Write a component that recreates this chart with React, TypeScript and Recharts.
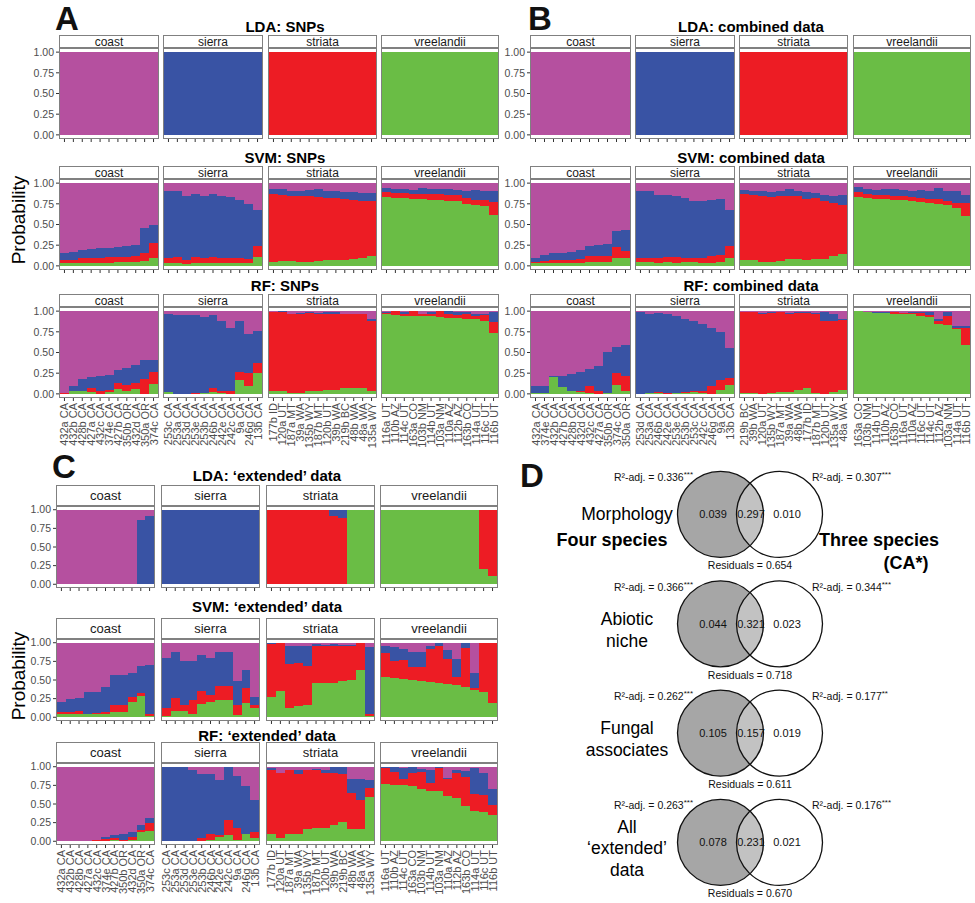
import React from 'react';
import { BarChart, Bar, XAxis, YAxis, ScatterChart, Scatter } from 'recharts';

const FONT = '"Liberation Sans", Arial, Helvetica, sans-serif';
const COL_G = '#6abd45';
const COL_R = '#ed1c24';
const COL_B = '#3953a4';
const COL_P = '#b5509f';

const SPECIES = ['coast', 'sierra', 'striata', 'vreelandii'];

// ---------- tick labels ----------
const labelsA = [
  ['432a CA', '432b CA', '428b CA', '427a CA', '432c CA', '374e CA', '427b CA', '350b OR', '432d CA', '350a OR', '374c CA'],
  ['253c CA', '253a CA', '253d CA', '253e CA', '253b CA', '246b CA', '242e CA', '242c CA', '9a CA', '246g CA', '13b CA'],
  ['177b ID', '120a UT', '187a MT', '39a WA', '135b WY', '187b MT', '120b UT', '39b WA', '219b BC', '48b WA', '48a WA', '135a WY'],
  ['116a UT', '110b AZ', '114c UT', '163a CO', '103b NM', '114b UT', '103a NM', '110a AZ', '112b AZ', '163b CO', '114a UT', '116c UT', '116b UT'],
];
const labelsB = [
  ['432a CA', '374e CA', '432b CA', '427b CA', '428b CA', '432d CA', '432c CA', '427a CA', '350b OR', '374c CA', '350a OR'],
  ['253d CA', '253a CA', '246b CA', '242e CA', '253e CA', '253b CA', '253c CA', '242c CA', '246g CA', '9a CA', '13b CA'],
  ['219b BC', '39b WA', '120a UT', '135b WY', '187a MT', '39a WA', '48b WA', '177b ID', '187b MT', '120b UT', '135a WY', '48a WA'],
  ['163a CO', '103b NM', '114b UT', '110b AZ', '163b CO', '116a UT', '110a AZ', '116c UT', '114c UT', '112b AZ', '103a NM', '114a UT', '116b UT'],
];
const labelsC = labelsA;

// ---------- A: SNPs ----------
const ldaSnpsG = [
  [0, 0, 0, 0, 0, 0, 0, 0, 0, 0, 0],
  [0, 0, 0, 0, 0, 0, 0, 0, 0, 0, 0],
  [0, 0, 0, 0, 0, 0, 0, 0, 0, 0, 0, 0],
  [1, 1, 1, 1, 1, 1, 1, 1, 1, 1, 1, 1, 1],
];
const ldaSnpsR = [
  [0, 0, 0, 0, 0, 0, 0, 0, 0, 0, 0],
  [0, 0, 0, 0, 0, 0, 0, 0, 0, 0, 0],
  [1, 1, 1, 1, 1, 1, 1, 1, 1, 1, 1, 1],
  [0, 0, 0, 0, 0, 0, 0, 0, 0, 0, 0, 0, 0],
];
const ldaSnpsB = [
  [0, 0, 0, 0, 0, 0, 0, 0, 0, 0, 0],
  [1, 1, 1, 1, 1, 1, 1, 1, 1, 1, 1],
  [0, 0, 0, 0, 0, 0, 0, 0, 0, 0, 0, 0],
  [0, 0, 0, 0, 0, 0, 0, 0, 0, 0, 0, 0, 0],
];

const svmSnpsG = [
  [0.04, 0.04, 0.03, 0.04, 0.04, 0.04, 0.05, 0.05, 0.05, 0.06, 0.10],
  [0.04, 0.04, 0.02, 0.04, 0.04, 0.04, 0.04, 0.04, 0.04, 0.03, 0.11],
  [0.05, 0.06, 0.06, 0.05, 0.05, 0.06, 0.07, 0.07, 0.07, 0.08, 0.09, 0.12],
  [0.83, 0.82, 0.82, 0.81, 0.81, 0.80, 0.80, 0.79, 0.78, 0.75, 0.74, 0.72, 0.62],
];
const svmSnpsR = [
  [0.03, 0.03, 0.06, 0.06, 0.06, 0.07, 0.06, 0.06, 0.07, 0.10, 0.18],
  [0.05, 0.07, 0.05, 0.07, 0.06, 0.07, 0.06, 0.05, 0.05, 0.05, 0.13],
  [0.82, 0.80, 0.79, 0.80, 0.79, 0.77, 0.75, 0.75, 0.74, 0.72, 0.69, 0.67],
  [0.06, 0.06, 0.06, 0.06, 0.06, 0.07, 0.07, 0.07, 0.08, 0.07, 0.06, 0.08, 0.15],
];
const svmSnpsB = [
  [0.08, 0.10, 0.10, 0.10, 0.11, 0.11, 0.12, 0.13, 0.13, 0.30, 0.22],
  [0.81, 0.79, 0.78, 0.76, 0.75, 0.76, 0.75, 0.74, 0.71, 0.67, 0.44],
  [0.06, 0.07, 0.06, 0.06, 0.08, 0.10, 0.08, 0.08, 0.08, 0.09, 0.10, 0.09],
  [0.05, 0.05, 0.05, 0.05, 0.07, 0.06, 0.06, 0.07, 0.06, 0.08, 0.12, 0.10, 0.13],
];

const rfSnpsG = [
  [0, 0.03, 0.03, 0.02, 0, 0.02, 0.06, 0.04, 0.06, 0, 0.12],
  [0.02, 0, 0, 0, 0.01, 0.02, 0.01, 0, 0.17, 0.10, 0.25],
  [0.03, 0.03, 0.01, 0.01, 0.03, 0.03, 0.05, 0.05, 0.07, 0.07, 0.07, 0.03],
  [0.96, 0.95, 0.94, 0.94, 0.94, 0.94, 0.93, 0.92, 0.92, 0.91, 0.90, 0.88, 0.74],
];
const rfSnpsR = [
  [0.015, 0, 0, 0.05, 0.03, 0.03, 0.07, 0.07, 0.07, 0.18, 0.15],
  [0, 0, 0, 0.01, 0, 0.05, 0.02, 0.03, 0.10, 0.15, 0.12],
  [0.96, 0.96, 0.95, 0.95, 0.95, 0.93, 0.91, 0.91, 0.90, 0.89, 0.89, 0.85],
  [0.02, 0.05, 0.03, 0.06, 0.03, 0.02, 0.07, 0.05, 0.03, 0.05, 0.04, 0.07, 0.13],
];
const rfSnpsB = [
  [0, 0.07, 0.15, 0.13, 0.18, 0.18, 0.16, 0.20, 0.22, 0.23, 0.14],
  [0.94, 0.95, 0.95, 0.94, 0.92, 0.88, 0.85, 0.77, 0.61, 0.47, 0.39],
  [0, 0.01, 0, 0.02, 0.01, 0.02, 0.03, 0.03, 0, 0.01, 0, 0.02],
  [0.01, 0, 0.02, 0, 0, 0.03, 0, 0.03, 0.04, 0.03, 0.02, 0.02, 0.12],
];

// ---------- B: combined data ----------
const ldaCombG = [
  [0, 0, 0, 0, 0, 0, 0, 0, 0, 0, 0],
  [0, 0, 0, 0, 0, 0, 0, 0, 0, 0, 0],
  [0, 0, 0, 0, 0, 0, 0, 0, 0, 0, 0, 0],
  [1, 1, 1, 1, 1, 1, 1, 1, 1, 1, 1, 1, 1],
];
const ldaCombR = [
  [0, 0, 0, 0, 0, 0, 0, 0, 0, 0, 0],
  [0, 0, 0, 0, 0, 0, 0, 0, 0, 0, 0],
  [1, 1, 1, 1, 1, 1, 1, 1, 1, 1, 1, 1],
  [0, 0, 0, 0, 0, 0, 0, 0, 0, 0, 0, 0, 0],
];
const ldaCombB = [
  [0, 0, 0, 0, 0, 0, 0, 0, 0, 0, 0],
  [1, 1, 1, 1, 1, 1, 1, 1, 1, 1, 1],
  [0, 0, 0, 0, 0, 0, 0, 0, 0, 0, 0, 0],
  [0, 0, 0, 0, 0, 0, 0, 0, 0, 0, 0, 0, 0],
];

const svmCombG = [
  [0.03, 0.03, 0.03, 0.03, 0.03, 0.04, 0.05, 0.05, 0.05, 0.09, 0.09],
  [0.05, 0.05, 0.04, 0.05, 0.04, 0.05, 0.05, 0.04, 0.04, 0.05, 0.10],
  [0.07, 0.07, 0.05, 0.05, 0.06, 0.08, 0.08, 0.07, 0.08, 0.08, 0.12, 0.14],
  [0.83, 0.82, 0.81, 0.81, 0.80, 0.80, 0.79, 0.77, 0.76, 0.75, 0.73, 0.70, 0.60],
];
const svmCombR = [
  [0.02, 0.03, 0.04, 0.04, 0.04, 0.04, 0.07, 0.07, 0.07, 0.14, 0.09],
  [0.05, 0.05, 0.05, 0.06, 0.07, 0.05, 0.04, 0.06, 0.08, 0.08, 0.14],
  [0.80, 0.79, 0.79, 0.78, 0.78, 0.77, 0.76, 0.74, 0.74, 0.71, 0.64, 0.60],
  [0.06, 0.05, 0.05, 0.05, 0.05, 0.04, 0.04, 0.05, 0.05, 0.06, 0.06, 0.06, 0.16],
];
const svmCombB = [
  [0.04, 0.07, 0.08, 0.09, 0.10, 0.11, 0.12, 0.13, 0.14, 0.19, 0.25],
  [0.80, 0.80, 0.77, 0.75, 0.74, 0.72, 0.70, 0.68, 0.68, 0.68, 0.43],
  [0.05, 0.05, 0.06, 0.06, 0.07, 0.08, 0.07, 0.08, 0.06, 0.07, 0.09, 0.12],
  [0.06, 0.06, 0.06, 0.07, 0.08, 0.08, 0.08, 0.10, 0.10, 0.13, 0.11, 0.14, 0.10],
];

const rfCombG = [
  [0.01, 0.01, 0.20, 0.08, 0.04, 0.02, 0.01, 0, 0.01, 0.11, 0.03],
  [0, 0.01, 0.01, 0, 0.01, 0.01, 0.02, 0.01, 0, 0.05, 0.11],
  [0.01, 0.01, 0, 0.01, 0.02, 0.02, 0.05, 0.07, 0.01, 0, 0.02, 0.05],
  [1.0, 0.99, 0.98, 0.98, 0.97, 0.97, 0.96, 0.94, 0.93, 0.85, 0.83, 0.79, 0.59],
];
const rfCombR = [
  [0, 0, 0, 0, 0, 0.01, 0.08, 0.03, 0, 0.14, 0.19],
  [0, 0, 0.01, 0.01, 0, 0.01, 0.01, 0.02, 0.10, 0.12, 0.08],
  [0.98, 0.98, 0.97, 0.97, 0.97, 0.94, 0.93, 0.91, 0.95, 0.88, 0.86, 0.84],
  [0, 0, 0, 0, 0.02, 0.01, 0.02, 0.04, 0.02, 0.03, 0.11, 0.01, 0.21],
];
const rfCombB = [
  [0.08, 0.08, 0.01, 0.14, 0.20, 0.23, 0.21, 0.31, 0.50, 0.32, 0.37],
  [0.99, 0.96, 0.96, 0.95, 0.93, 0.89, 0.85, 0.82, 0.70, 0.58, 0.36],
  [0, 0, 0.01, 0.01, 0, 0.02, 0.01, 0.01, 0.02, 0.11, 0.08, 0.02],
  [0, 0, 0.01, 0.01, 0, 0, 0.01, 0.01, 0.04, 0.02, 0.05, 0.02, 0.02],
];

// ---------- C: 'extended' data ----------
const ldaExtG = [
  [0, 0, 0, 0, 0, 0, 0, 0, 0, 0, 0],
  [0, 0, 0, 0, 0, 0, 0, 0, 0, 0, 0],
  [0, 0, 0, 0, 0, 0.01, 0.01, 0, 0, 1, 1, 1],
  [1, 1, 1, 1, 1, 1, 1, 1, 1, 1, 1, 0.21, 0.11],
];
const ldaExtR = [
  [0, 0, 0, 0, 0, 0, 0, 0, 0, 0, 0],
  [0, 0, 0, 0, 0, 0, 0, 0, 0, 0, 0],
  [1, 1, 1, 1, 1, 0.99, 0.99, 0.92, 0.89, 0, 0, 0],
  [0, 0, 0, 0, 0, 0, 0, 0, 0, 0, 0, 0.79, 0.89],
];
const ldaExtB = [
  [0, 0, 0, 0, 0, 0, 0, 0, 0, 0.86, 0.92],
  [1, 1, 1, 1, 1, 1, 1, 1, 1, 1, 1],
  [0, 0, 0, 0, 0, 0, 0, 0.08, 0.11, 0, 0, 0],
  [0, 0, 0, 0, 0, 0, 0, 0, 0, 0, 0, 0, 0],
];

const svmExtG = [
  [0.04, 0.04, 0.05, 0.04, 0.05, 0.05, 0.07, 0.07, 0.20, 0.28, 0.02],
  [0.02, 0.09, 0.08, 0.05, 0.18, 0.21, 0.23, 0.23, 0.03, 0.19, 0.13],
  [0.27, 0.35, 0.13, 0.15, 0.16, 0.46, 0.46, 0.46, 0.48, 0.50, 0.63, 0.02],
  [0.54, 0.53, 0.52, 0.50, 0.49, 0.47, 0.46, 0.44, 0.43, 0.41, 0.36, 0.34, 0.19],
];
const svmExtR = [
  [0.03, 0.03, 0.03, 0.01, 0.01, 0.02, 0.10, 0.10, 0.07, 0.04, 0.03],
  [0.10, 0.17, 0.09, 0.18, 0.17, 0.09, 0.19, 0.19, 0.13, 0.20, 0.04],
  [0.71, 0.64, 0.59, 0.58, 0.53, 0.50, 0.49, 0.50, 0.48, 0.45, 0.36, 0.02],
  [0.32, 0.23, 0.25, 0.18, 0.19, 0.44, 0.49, 0.34, 0.11, 0.52, 0.03, 0.66, 0.81],
];
const svmExtB = [
  [0.13, 0.18, 0.18, 0.29, 0.28, 0.34, 0.40, 0.40, 0.32, 0.37, 0.65],
  [0.67, 0.61, 0.59, 0.53, 0.49, 0.49, 0.45, 0.45, 0.33, 0.24, 0.10],
  [0.01, 0, 0.24, 0.23, 0.27, 0.02, 0.02, 0.02, 0.01, 0.02, 0, 0.90],
  [0.10, 0.18, 0.15, 0.20, 0.20, 0.05, 0.04, 0.12, 0.24, 0.06, 0.20, 0, 0],
];

const rfExtG = [
  [0, 0, 0, 0, 0, 0.01, 0.02, 0.01, 0.02, 0.12, 0.14],
  [0, 0, 0, 0, 0, 0.02, 0.06, 0.08, 0.02, 0.10, 0.04],
  [0.10, 0.04, 0.10, 0.10, 0.16, 0.18, 0.18, 0.22, 0.26, 0.16, 0.17, 0.60],
  [0.77, 0.76, 0.75, 0.74, 0.70, 0.68, 0.67, 0.61, 0.58, 0.47, 0.41, 0.39, 0.35],
];
const rfExtR = [
  [0, 0, 0, 0, 0.02, 0.02, 0.02, 0.01, 0.04, 0.03, 0.10],
  [0, 0, 0.01, 0, 0.04, 0.08, 0.02, 0.20, 0.16, 0, 0.08],
  [0.86, 0.87, 0.85, 0.80, 0.79, 0.78, 0.74, 0.70, 0.64, 0.49, 0.39, 0.12],
  [0.21, 0.17, 0.08, 0.17, 0.23, 0.10, 0.31, 0.23, 0.34, 0.39, 0.23, 0.23, 0.13],
];
const rfExtB = [
  [0, 0, 0, 0, 0, 0.03, 0.04, 0.08, 0.06, 0.07, 0.07],
  [1.0, 1.0, 0.99, 0.96, 0.86, 0.80, 0.74, 0.72, 0.70, 0.64, 0.44],
  [0.02, 0.01, 0.01, 0.05, 0.01, 0.01, 0.04, 0.08, 0.10, 0.19, 0.28, 0.10],
  [0.02, 0.06, 0.15, 0.09, 0.04, 0.17, 0.02, 0.01, 0.03, 0.08, 0.34, 0.29, 0.22],
];

// ---------- D: variance partitioning ----------
const vennTraits = [['Morphology'], ['Abiotic', 'niche'], ['Fungal', 'associates'], ['All', '\u2018extended\u2019', 'data']];
const vennFourOnly = [0.039, 0.044, 0.105, 0.078];
const vennShared = [0.297, 0.321, 0.157, 0.231];
const vennThreeOnly = [0.010, 0.023, 0.019, 0.021];
const r2Four = [0.336, 0.366, 0.262, 0.263];
const r2FourSig = ['***', '***', '***', '***'];
const r2Three = [0.307, 0.344, 0.177, 0.176];
const r2ThreeSig = ['***', '***', '**', '***'];
const residuals = [0.654, 0.718, 0.611, 0.670];
const vennRows = vennTraits.map((_, i) => ({ x: 0, y: i, i }));

// ---------- layout ----------
type RowDef = { title: string; top: number; titleY: number; g: number[][]; r: number[][]; b: number[][]; labels: string[][]; showLabels: boolean };
type PanelDef = { lefts: number[]; widths: number[]; panelH: number; stripH: number; stripFont: number; titleX: number; rows: RowDef[] };

const PANEL_A: PanelDef = {
  lefts: [59, 163, 268, 381], widths: [100, 100, 109, 118], panelH: 91, stripH: 12, stripFont: 12, titleX: 285,
  rows: [
    { title: 'LDA: SNPs', top: 48, titleY: 26, g: ldaSnpsG, r: ldaSnpsR, b: ldaSnpsB, labels: labelsA, showLabels: false },
    { title: 'SVM: SNPs', top: 179, titleY: 157, g: svmSnpsG, r: svmSnpsR, b: svmSnpsB, labels: labelsA, showLabels: false },
    { title: 'RF: SNPs', top: 307, titleY: 285, g: rfSnpsG, r: rfSnpsR, b: rfSnpsB, labels: labelsA, showLabels: true },
  ],
};
const PANEL_B: PanelDef = {
  lefts: [530, 635, 739, 853], widths: [101, 100, 109, 118], panelH: 91, stripH: 12, stripFont: 12, titleX: 751,
  rows: [
    { title: 'LDA: combined data', top: 48, titleY: 26, g: ldaCombG, r: ldaCombR, b: ldaCombB, labels: labelsB, showLabels: false },
    { title: 'SVM: combined data', top: 179, titleY: 157, g: svmCombG, r: svmCombR, b: svmCombB, labels: labelsB, showLabels: false },
    { title: 'RF: combined data', top: 307, titleY: 285, g: rfCombG, r: rfCombR, b: rfCombB, labels: labelsB, showLabels: true },
  ],
};
const PANEL_C: PanelDef = {
  lefts: [56, 161, 266, 380], widths: [99, 99, 109, 118], panelH: 82, stripH: 20, stripFont: 13, titleX: 267,
  rows: [
    { title: 'LDA: \u2018extended\u2019 data', top: 506, titleY: 475, g: ldaExtG, r: ldaExtR, b: ldaExtB, labels: labelsC, showLabels: false },
    { title: 'SVM: \u2018extended\u2019 data', top: 639, titleY: 606, g: svmExtG, r: svmExtR, b: svmExtB, labels: labelsC, showLabels: false },
    { title: 'RF: \u2018extended\u2019 data', top: 763, titleY: 735, g: rfExtG, r: rfExtR, b: rfExtB, labels: labelsC, showLabels: true },
  ],
};
const PANELS = [PANEL_A, PANEL_B, PANEL_C];

const YW = 36;
const BORDER = '#808080';

function buildRows(labels: string[], g: number[], r: number[], b: number[]) {
  return labels.map((name, i) => ({
    name,
    g: g[i],
    r: r[i],
    b: b[i],
    p: Math.max(0, 1 - g[i] - r[i] - b[i]),
  }));
}

const RotTick = (props: any) => {
  const { x, y, payload } = props;
  return (
    <text
      x={0}
      y={0}
      transform={`translate(${x},${y}) rotate(-90)`}
      textAnchor="end"
      dominantBaseline="central"
      fontSize={11}
      fill="#4d4d4d"
      fontFamily={FONT}
    >
      {payload.value}
    </text>
  );
};
const NoTick = () => <g />;

function Facet(props: { left: number; top: number; width: number; panelH: number; rows: any[]; showY: boolean; showLabels: boolean }) {
  const { left, top, width, panelH, rows, showY, showLabels } = props;
  const xH = showLabels ? 60 : 4;
  const w = width + (showY ? YW : 0);
  const h = panelH + xH;
  return (
    <div style={{ position: 'absolute', left: left - (showY ? YW : 0), top, width: w, height: h }}>
      <BarChart width={w} height={h} data={rows} margin={{ top: 0, right: 0, bottom: 0, left: 0 }} barCategoryGap={0} barGap={0}>
        <XAxis
          dataKey="name"
          interval={0}
          tickSize={3}
          tickLine={{ stroke: '#333333' }}
          axisLine={false}
          height={xH}
          tick={showLabels ? <RotTick /> : <NoTick />}
          padding={{ left: 1, right: 1 }}
        />
        <YAxis
          hide={!showY}
          width={YW}
          type="number"
          domain={[-0.05, 1.05]}
          ticks={[0, 0.25, 0.5, 0.75, 1]}
          tickFormatter={(v: number) => v.toFixed(2)}
          tickSize={3}
          tickMargin={2}
          axisLine={false}
          tickLine={{ stroke: '#333333' }}
          tick={{ fontSize: 10.5, fill: '#4d4d4d', fontFamily: FONT }}
          allowDataOverflow
          interval={0}
        />
        <Bar dataKey="g" stackId="s" fill={COL_G} isAnimationActive={false} />
        <Bar dataKey="r" stackId="s" fill={COL_R} isAnimationActive={false} />
        <Bar dataKey="b" stackId="s" fill={COL_B} isAnimationActive={false} />
        <Bar dataKey="p" stackId="s" fill={COL_P} isAnimationActive={false} />
      </BarChart>
    </div>
  );
}

const fmt3 = (v: number) => v.toFixed(3);

const VennShape = (props: any) => {
  const { cx, cy, payload } = props;
  const i = payload.i;
  const R = 43;
  const off = 29.5;
  const lines = vennTraits[i];
  const lh = 21.5;
  const y0 = cy + (lines.length > 1 ? 6 : 0) - ((lines.length - 1) * lh) / 2;
  return (
    <g fontFamily={FONT}>
      <circle cx={cx - off} cy={cy} r={R} fill="#a6a6a6" />
      <circle cx={cx + off} cy={cy} r={R} fill="#ffffff" fillOpacity={0.32} />
      <circle cx={cx - off} cy={cy} r={R} fill="none" stroke="#111" strokeWidth={1.3} />
      <circle cx={cx + off} cy={cy} r={R} fill="none" stroke="#111" strokeWidth={1.3} />
      <text x={cx - 37} y={cy} textAnchor="middle" dominantBaseline="central" fontSize={11} fill="#111">{fmt3(vennFourOnly[i])}</text>
      <text x={cx + 1} y={cy} textAnchor="middle" dominantBaseline="central" fontSize={11} fill="#111">{fmt3(vennShared[i])}</text>
      <text x={cx + 37} y={cy} textAnchor="middle" dominantBaseline="central" fontSize={11} fill="#111">{fmt3(vennThreeOnly[i])}</text>
      <text x={cx - 57} y={cy - 37} textAnchor="end" dominantBaseline="central" fontSize={10.5} fill="#111">
        {`R\u00b2-adj. = ${fmt3(r2Four[i])}`}
        <tspan fontSize={8} dy={-3}>{r2FourSig[i]}</tspan>
      </text>
      <text x={cx + 62} y={cy - 37} textAnchor="start" dominantBaseline="central" fontSize={10.5} fill="#111">
        {`R\u00b2-adj. = ${fmt3(r2Three[i])}`}
        <tspan fontSize={8} dy={-3}>{r2ThreeSig[i]}</tspan>
      </text>
      <text x={cx} y={cy + 51} textAnchor="middle" dominantBaseline="central" fontSize={10.5} fill="#111">
        {`Residuals = ${fmt3(residuals[i])}`}
      </text>
      {lines.map((t, k) => (
        <text key={k} x={cx - 123} y={y0 + k * lh} textAnchor="middle" dominantBaseline="central" fontSize={17.5} fill="#000">
          {t}
        </text>
      ))}
    </g>
  );
};

export default function App() {
  return (
    <div style={{ position: 'absolute', left: 0, top: 0, width: 975, height: 903, background: '#ffffff', overflow: 'hidden', fontFamily: FONT }}>
      <style>{`.recharts-bar-rectangle path{shape-rendering:crispEdges} .recharts-surface{overflow:visible}`}</style>
      {PANELS.map((P, pi) =>
        P.rows.map((row, ri) =>
          SPECIES.map((sp, k) => (
            <Facet
              key={`${pi}-${ri}-${sp}`}
              left={P.lefts[k]}
              top={row.top}
              width={P.widths[k]}
              panelH={P.panelH}
              rows={buildRows(row.labels[k], row.g[k], row.r[k], row.b[k])}
              showY={k === 0}
              showLabels={row.showLabels}
            />
          ))
        )
      )}

      <div style={{ position: 'absolute', left: 525, top: 455, width: 450, height: 448 }}>
        <ScatterChart width={450} height={448} margin={{ top: 0, right: 0, bottom: 0, left: 0 }}>
          <XAxis type="number" dataKey="x" domain={[-1, 1]} hide />
          <YAxis type="number" dataKey="y" domain={[-0.544, 3.554]} reversed hide allowDataOverflow />
          <Scatter data={vennRows} shape={<VennShape />} isAnimationActive={false} />
        </ScatterChart>
      </div>

      <svg width={975} height={903} style={{ position: 'absolute', left: 0, top: 0, pointerEvents: 'none' }} fontFamily={FONT}>
        {PANELS.map((P, pi) =>
          P.rows.map((row, ri) => (
            <g key={`ov-${pi}-${ri}`}>
              <text x={P.titleX} y={row.titleY} textAnchor="middle" dominantBaseline="central" fontSize={15} fontWeight="bold" fill="#000">
                {row.title}
              </text>
              {SPECIES.map((sp, k) => (
                <g key={sp}>
                  <rect
                    x={P.lefts[k] + 0.5}
                    y={row.top - P.stripH - 1 + 0.5}
                    width={P.widths[k] - 1}
                    height={P.stripH}
                    fill="#ffffff"
                    stroke={BORDER}
                    strokeWidth={1}
                  />
                  <text
                    x={P.lefts[k] + P.widths[k] / 2}
                    y={row.top - P.stripH / 2 - 0.5}
                    textAnchor="middle"
                    dominantBaseline="central"
                    fontSize={P.stripFont}
                    fill="#1a1a1a"
                  >
                    {sp}
                  </text>
                  <rect
                    x={P.lefts[k] + 0.5}
                    y={row.top + 0.5}
                    width={P.widths[k] - 1}
                    height={P.panelH - 1}
                    fill="none"
                    stroke={BORDER}
                    strokeWidth={1}
                  />
                </g>
              ))}
            </g>
          ))
        )}
        <text x={55} y={30} fontSize={33} fontWeight="bold" fill="#111">A</text>
        <text x={528} y={30} fontSize={33} fontWeight="bold" fill="#111">B</text>
        <text x={52} y={478} fontSize={33} fontWeight="bold" fill="#111">C</text>
        <text x={520} y={487} fontSize={33} fontWeight="bold" fill="#111">D</text>
        <text transform="translate(18,220) rotate(-90)" textAnchor="middle" dominantBaseline="central" fontSize={19} fill="#000">Probability</text>
        <text transform="translate(18,676) rotate(-90)" textAnchor="middle" dominantBaseline="central" fontSize={19} fill="#000">Probability</text>
        <text x={612} y={540} textAnchor="middle" dominantBaseline="central" fontSize={18} fontWeight="bold" fill="#000">Four species</text>
        <text x={879} y={540} textAnchor="middle" dominantBaseline="central" fontSize={18} fontWeight="bold" fill="#000">Three species</text>
        <text x={906} y={563} textAnchor="middle" dominantBaseline="central" fontSize={18} fontWeight="bold" fill="#000">(CA*)</text>
      </svg>
    </div>
  );
}
